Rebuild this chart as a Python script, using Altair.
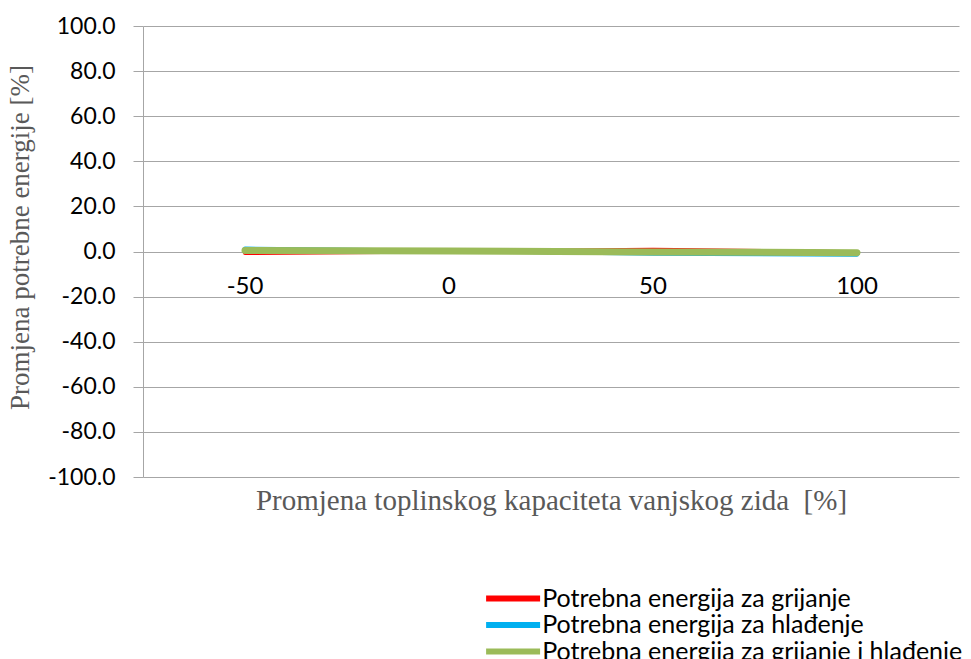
import altair as alt
import pandas as pd

categories = ["-50", "0", "50", "100"]
series_names = [
    "Potrebna energija za grijanje",
    "Potrebna energija za hlađenje",
    "Potrebna energija za grijanje i hlađenje",
]
grijanje = [-0.7, 0.0, 0.8, -0.3]
hladenje = [1.3, 0.3, -1.0, -1.4]
ukupno = [0.4, 0.2, -0.2, -0.5]
colors = ["#FF0000", "#00B0F0", "#9BBB59"]
widths = [4, 4, 7]
y_ticks = [-100, -80, -60, -40, -20, 0, 20, 40, 60, 80, 100]

rows = []
for name, vals in zip(series_names, [grijanje, hladenje, ukupno]):
    for c, v in zip(categories, vals):
        rows.append({"cat": c, "val": v, "series": name})
df = pd.DataFrame(rows)
lab = pd.DataFrame({"cat": categories, "zero": [0] * len(categories)})

FONT = "Lato"
SERIF = "Liberation Serif"

xscale = alt.Scale(domain=categories, paddingInner=0, paddingOuter=0)
yscale = alt.Scale(domain=[-100, 100], nice=False)
cscale = alt.Scale(domain=series_names, range=colors)

x_enc = alt.X("cat:N", scale=xscale, sort=categories,
              axis=alt.Axis(labels=False, ticks=False, domain=False, grid=False,
                            title="Promjena toplinskog kapaciteta vanjskog zida \u00a0[%]",
                            titleFont=SERIF, titleFontSize=29, titleFontWeight="normal",
                            titleColor="#595959", titlePadding=9))
y_enc = alt.Y("val:Q", scale=yscale,
              axis=alt.Axis(values=y_ticks, grid=True, gridColor="#A6A6A6",
                            labelExpr="replace(format(datum.value, '.1f'), '\u2212', '-')",
                            gridWidth=1, domainColor="#A6A6A6", tickColor="#A6A6A6",
                            tickSize=10, labelFont=FONT, labelFontSize=23, labelColor="#000000",
                            labelPadding=18,
                            title="Promjena potrebne energije [%]", titleFont=SERIF,
                            titleFontSize=27, titleFontWeight="normal", titleColor="#595959",
                            titlePadding=13, titleY=211))

legend = alt.Legend(title=None, orient="none", legendX=357.6, legendY=560,
                    symbolType="M-5,0H5", symbolSize=116.6, symbolStrokeWidth=6,
                    labelFont=FONT, labelFontSize=25, labelColor="#000000",
                    rowPadding=0.5, labelOffset=16.6, labelLimit=600)

layers = []
for i, name in enumerate(series_names):
    layers.append(
        alt.Chart(df).transform_filter(alt.datum.series == name)
        .mark_line(strokeCap="round", strokeWidth=widths[i])
        .encode(x=x_enc, y=y_enc,
                color=alt.Color("series:N", sort=series_names, scale=cscale, legend=legend))
    )

labels = alt.Chart(lab).mark_text(font=FONT, fontSize=24, dy=35, color="#000000").encode(
    x=alt.X("cat:N", scale=xscale, sort=categories),
    y=alt.Y("zero:Q", scale=yscale),
    text="cat:N",
)

chart = alt.layer(labels, *layers).properties(
    width=816, height=451,
    autosize=alt.AutoSizeParams(type="none"),
    padding={"left": 135, "top": 18, "right": 4, "bottom": 183},
).configure_view(stroke=None)

chart.save("out.html", embed_options={"renderer": "svg", "actions": False})
